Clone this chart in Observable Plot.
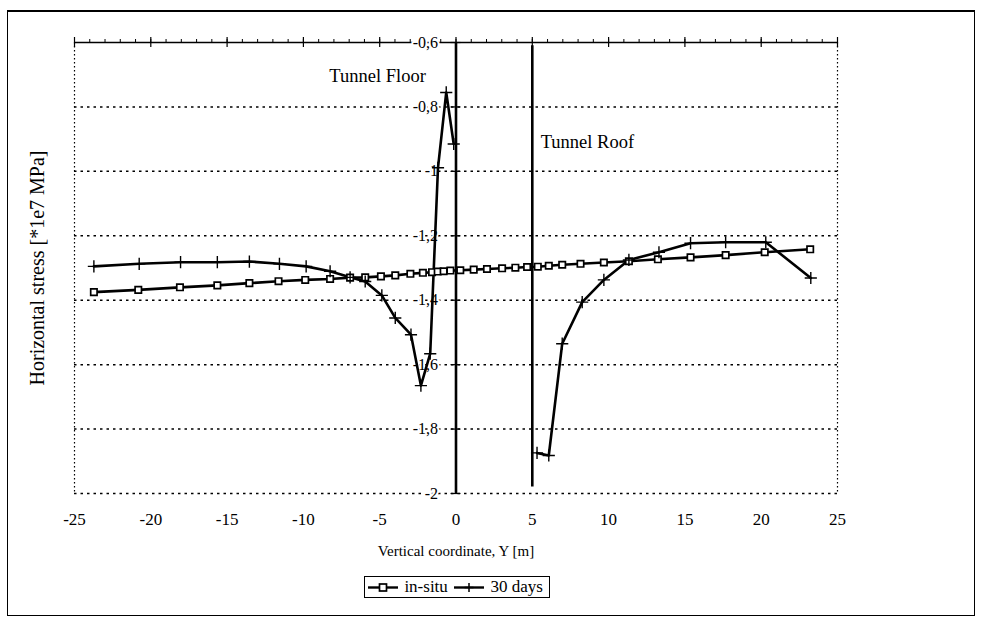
<!DOCTYPE html>
<html>
<head>
<meta charset="utf-8">
<script src="https://cdn.jsdelivr.net/npm/d3@7"></script>
<script src="https://cdn.jsdelivr.net/npm/@observablehq/plot@0.6"></script>
<style>
  html, body { margin: 0; padding: 0; background: #fff; }
  #wrap { position: relative; width: 984px; height: 619px; overflow: hidden; font-family: "Liberation Serif", "Times New Roman", serif; }
  #chart { position: absolute; left: 0; top: 0; }
  #border { position: absolute; left: 7px; top: 10px; width: 968px; height: 606px; border-top: 2px solid #000; border-left: 1.5px solid #000; border-right: 1px solid #000; border-bottom: 1px solid #000; box-sizing: border-box; pointer-events: none; }
  #legend { position: absolute; left: 364px; top: 576px; height: 22px; width: 186px; box-sizing: border-box; border: 1px solid #000; display: flex; align-items: center; justify-content: space-between; padding: 0 4px 0 3px; font-size: 17px; color: #000; background: #fff; }
  #legend span { margin: 0 2px 0 2px; }
</style>
</head>
<body>
<div id="wrap">
  <div id="chart"></div>
  <div id="border"></div>
  <div id="legend"></div>
</div>
<script>
// ---- data ----
const insituY = [-23.73,-20.82,-18.09,-15.64,-13.54,-11.63,-9.88,-8.25,-6.94,-5.95,-4.92,-3.98,-2.99,-2.17,-1.57,-1.20,-0.81,-0.37,0.28,1.16,2.03,3.02,3.89,4.66,5.36,6.08,6.96,8.16,9.69,11.33,13.23,15.37,17.67,20.23,23.21];
const insituStress = [-1.375,-1.368,-1.360,-1.354,-1.347,-1.341,-1.337,-1.334,-1.330,-1.329,-1.326,-1.323,-1.318,-1.315,-1.313,-1.311,-1.310,-1.308,-1.307,-1.305,-1.303,-1.301,-1.299,-1.297,-1.296,-1.293,-1.290,-1.287,-1.283,-1.279,-1.273,-1.267,-1.260,-1.251,-1.242];

const days30FloorY = [-23.73,-20.76,-18.05,-15.64,-13.54,-11.57,-9.82,-8.25,-6.94,-5.95,-4.86,-3.98,-2.95,-2.30,-1.69,-1.18,-0.64,-0.15];
const days30FloorStress = [-1.295,-1.287,-1.282,-1.282,-1.280,-1.287,-1.295,-1.310,-1.329,-1.342,-1.385,-1.455,-1.507,-1.665,-1.566,-0.989,-0.755,-0.915];
const days30RoofY = [5.31,6.08,6.96,8.27,9.69,11.33,13.30,15.37,17.67,20.30,23.25];
const days30RoofStress = [-1.874,-1.882,-1.535,-1.406,-1.337,-1.275,-1.251,-1.223,-1.220,-1.220,-1.331];

const tunnelNames = ["Tunnel Floor", "Tunnel Roof"];
const tunnelPos = [0, 5];
const tunnelTop = [-0.6, -0.61];
const tunnelBottom = [-2, -1.98];
const tunnelLabelX = [-8.3, 5.55];
const tunnelLabelY = [-0.703, -0.908];

const xTicks = [-25,-20,-15,-10,-5,0,5,10,15,20,25];
const xMinorTicks = d3.range(-25, 26, 1);
const yTicks = [-0.6,-0.8,-1,-1.2,-1.4,-1.6,-1.8,-2];
const gridY = [-0.8,-1,-1.2,-1.4,-1.6,-1.8,-2];
const seriesNames = ["in-situ", "30 days"];
const xTitle = "Vertical coordinate, Y [m]";
const yTitle = "Horizontal stress [*1e7 MPa]";

// ---- tables ----
const insitu = insituY.map((y, i) => ({y, s: insituStress[i]}));
const days30 = [
  ...days30FloorY.map((y, i) => ({y, s: days30FloorStress[i], seg: "floor"})),
  ...days30RoofY.map((y, i) => ({y, s: days30RoofStress[i], seg: "roof"}))
];
const tunnels = tunnelNames.map((name, i) => ({name, x: tunnelPos[i], y1: tunnelTop[i], y2: tunnelBottom[i], lx: tunnelLabelX[i], ly: tunnelLabelY[i]}));
const fmt = v => String(v).replace(".", ",");
const serif = "'Liberation Serif', 'Times New Roman', serif";
const yTop = d3.max(yTicks);
const xZero = 0;

const chart = Plot.plot({
  width: 984,
  height: 619,
  marginLeft: 74,
  marginRight: 147,
  marginTop: 42,
  marginBottom: 126,
  style: {fontFamily: serif, fontSize: "15px", background: "transparent", color: "#000", overflow: "visible"},
  x: {domain: [-25, 25], axis: null},
  y: {domain: [-2, -0.6], axis: null},
  marks: [
    // dotted grid
    Plot.ruleY(gridY, {stroke: "#000", strokeWidth: 1.5, strokeDasharray: "2.5,4"}),
    Plot.ruleX([-25, 25], {stroke: "#000", strokeWidth: 1.2, strokeDasharray: "1.5,2.5"}),
    // top x axis line with ticks
    Plot.ruleY([yTop], {stroke: "#000", strokeWidth: 1.6}),
    Plot.ruleX(xMinorTicks, {x: d => d, y1: yTop, y2: yTop, insetTop: -3, stroke: "#000", strokeWidth: 1}),
    Plot.ruleX(xTicks, {x: d => d, y1: yTop, y2: yTop, insetTop: -5, insetBottom: -5, stroke: "#000", strokeWidth: 1.2}),
    // x tick labels at bottom
    Plot.text(xTicks, {x: d => d, frameAnchor: "bottom", dy: 31, text: d => String(d), fontSize: 17, fill: "#000"}),
    // tunnel lines (floor coincides with y axis)
    Plot.ruleX(tunnels, {x: "x", y1: "y1", y2: "y2", stroke: "#000", strokeWidth: 2.6}),
    // y axis ticks and labels on the x = 0 line
    Plot.ruleY(yTicks, {y: d => d, x1: xZero, x2: xZero, insetLeft: -5, insetRight: -5, stroke: "#000", strokeWidth: 1.2}),
    Plot.text(yTicks, {x: xZero, y: d => d, text: fmt, textAnchor: "end", dx: -18, fontSize: 16, fill: "#000", stroke: "#fff", strokeWidth: 4}),
    // series
    Plot.line(insitu, {x: "y", y: "s", stroke: "#000", strokeWidth: 2.6}),
    Plot.line(days30, {x: "y", y: "s", z: "seg", stroke: "#000", strokeWidth: 2.6}),
    Plot.dot(insitu, {x: "y", y: "s", symbol: "square", r: 3.6, fill: "#fff", stroke: "#000", strokeWidth: 1.7}),
    Plot.dot(days30, {x: "y", y: "s", symbol: "plus", r: 4, stroke: "#000", strokeWidth: 1.4}),
    // tunnel labels
    Plot.text(tunnels, {x: "lx", y: "ly", text: "name", textAnchor: "start", fontSize: 18.5, fill: "#000"}),
    // axis titles
    Plot.text([xTitle], {frameAnchor: "bottom", textAnchor: "middle", dy: 62, text: d => d, fontSize: 15, fill: "#000"}),
    Plot.text([yTitle], {frameAnchor: "left", textAnchor: "middle", dx: -37, rotate: -90, text: d => d, fontSize: 20, fill: "#000"})
  ]
});
document.getElementById("chart").appendChild(chart);

// legend
const legend = document.getElementById("legend");
const swatch = (kind) => {
  const mark = kind === "square"
    ? `<rect x="11.5" y="3" width="7" height="7" fill="#fff" stroke="#000" stroke-width="1.7"/>`
    : `<path d="M15 2 V11 M10.5 6.5 H19.5" stroke="#000" stroke-width="1.5"/>`;
  return `<svg width="30" height="13" style="display:block"><line x1="0" y1="6.5" x2="30" y2="6.5" stroke="#000" stroke-width="2.4"/>${mark}</svg>`;
};
legend.innerHTML = seriesNames.map((n, i) => `${swatch(i === 0 ? "square" : "plus")}<span>${n}</span>`).join("");
</script>
</body>
</html>
